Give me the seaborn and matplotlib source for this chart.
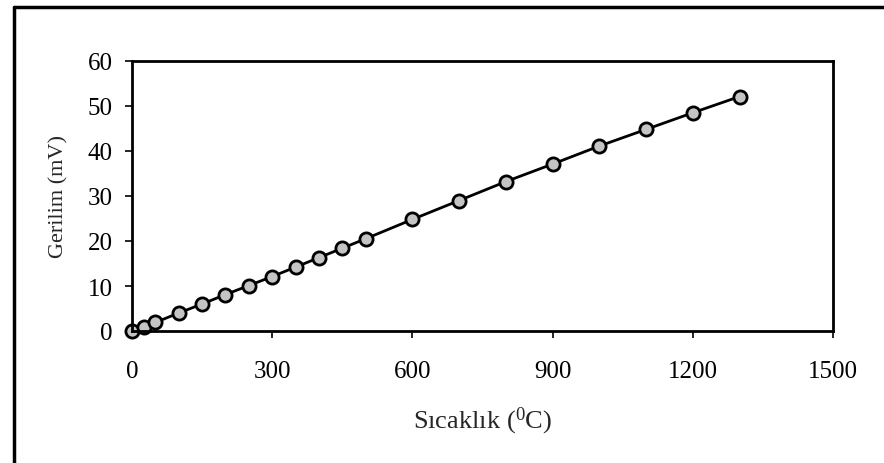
import matplotlib
matplotlib.use("Agg")
import matplotlib.pyplot as plt
from matplotlib.lines import Line2D
import seaborn as sns
import pandas as pd

temperature_c = [0, 25, 50, 100, 150, 200, 250, 300, 350, 400, 450, 500,
                 600, 700, 800, 900, 1000, 1100, 1200, 1300]
voltage_mv = [0.0, 0.9, 1.9, 4.0, 6.0, 8.1, 10.1, 12.1, 14.2, 16.3, 18.4, 20.5,
              24.8, 29.0, 33.2, 37.1, 41.1, 44.8, 48.5, 52.1]
x_ticks = [0, 300, 600, 900, 1200, 1500]
y_ticks = [0, 10, 20, 30, 40, 50, 60]
x_label = "Sıcaklık ($^{0}$C)"
y_label = "Gerilim (mV)"

sns.set_style("ticks")
plt.rcParams["font.family"] = ["Liberation Serif", "DejaVu Serif"]
plt.rcParams["mathtext.fontset"] = "custom"
plt.rcParams["mathtext.rm"] = "Liberation Serif"
plt.rcParams["mathtext.it"] = "Liberation Serif"

df = pd.DataFrame({"T": temperature_c, "V": voltage_mv})

fig = plt.figure(figsize=(8.84, 4.64), dpi=100)
ax = fig.add_axes([132 / 884, 1 - 332 / 464, (833 - 132) / 884, (332 - 62) / 464])

sns.lineplot(data=df, x="T", y="V", ax=ax, color="black", linewidth=2,
             marker="o", markersize=9.5, markerfacecolor="#c4c4c4",
             markeredgecolor="black", markeredgewidth=2, clip_on=False)

ax.set_xlim(0, 1500)
ax.set_ylim(0, 60)
ax.set_xticks(x_ticks)
ax.set_yticks(y_ticks)
ax.tick_params(axis="both", direction="out", length=5, width=1.2,
               labelsize=18, colors="black")
ax.tick_params(axis="x", pad=16)
ax.tick_params(axis="y", pad=9)
for s in ax.spines.values():
    s.set_visible(True)
    s.set_linewidth(2)
    s.set_color("black")

ax.set_xlabel(x_label, fontsize=19, labelpad=16)
ax.set_ylabel(y_label, fontsize=16, labelpad=14)

# outer frame (left and top edges visible)
fig.add_artist(Line2D([14 / 884, 14 / 884], [0, 1 - 8 / 464], color="black",
                      linewidth=2.5, transform=fig.transFigure))
fig.add_artist(Line2D([14 / 884, 1.0], [1 - 8 / 464, 1 - 8 / 464], color="black",
                      linewidth=2.5, transform=fig.transFigure))

fig.savefig("out.png", dpi=100, facecolor="white")
